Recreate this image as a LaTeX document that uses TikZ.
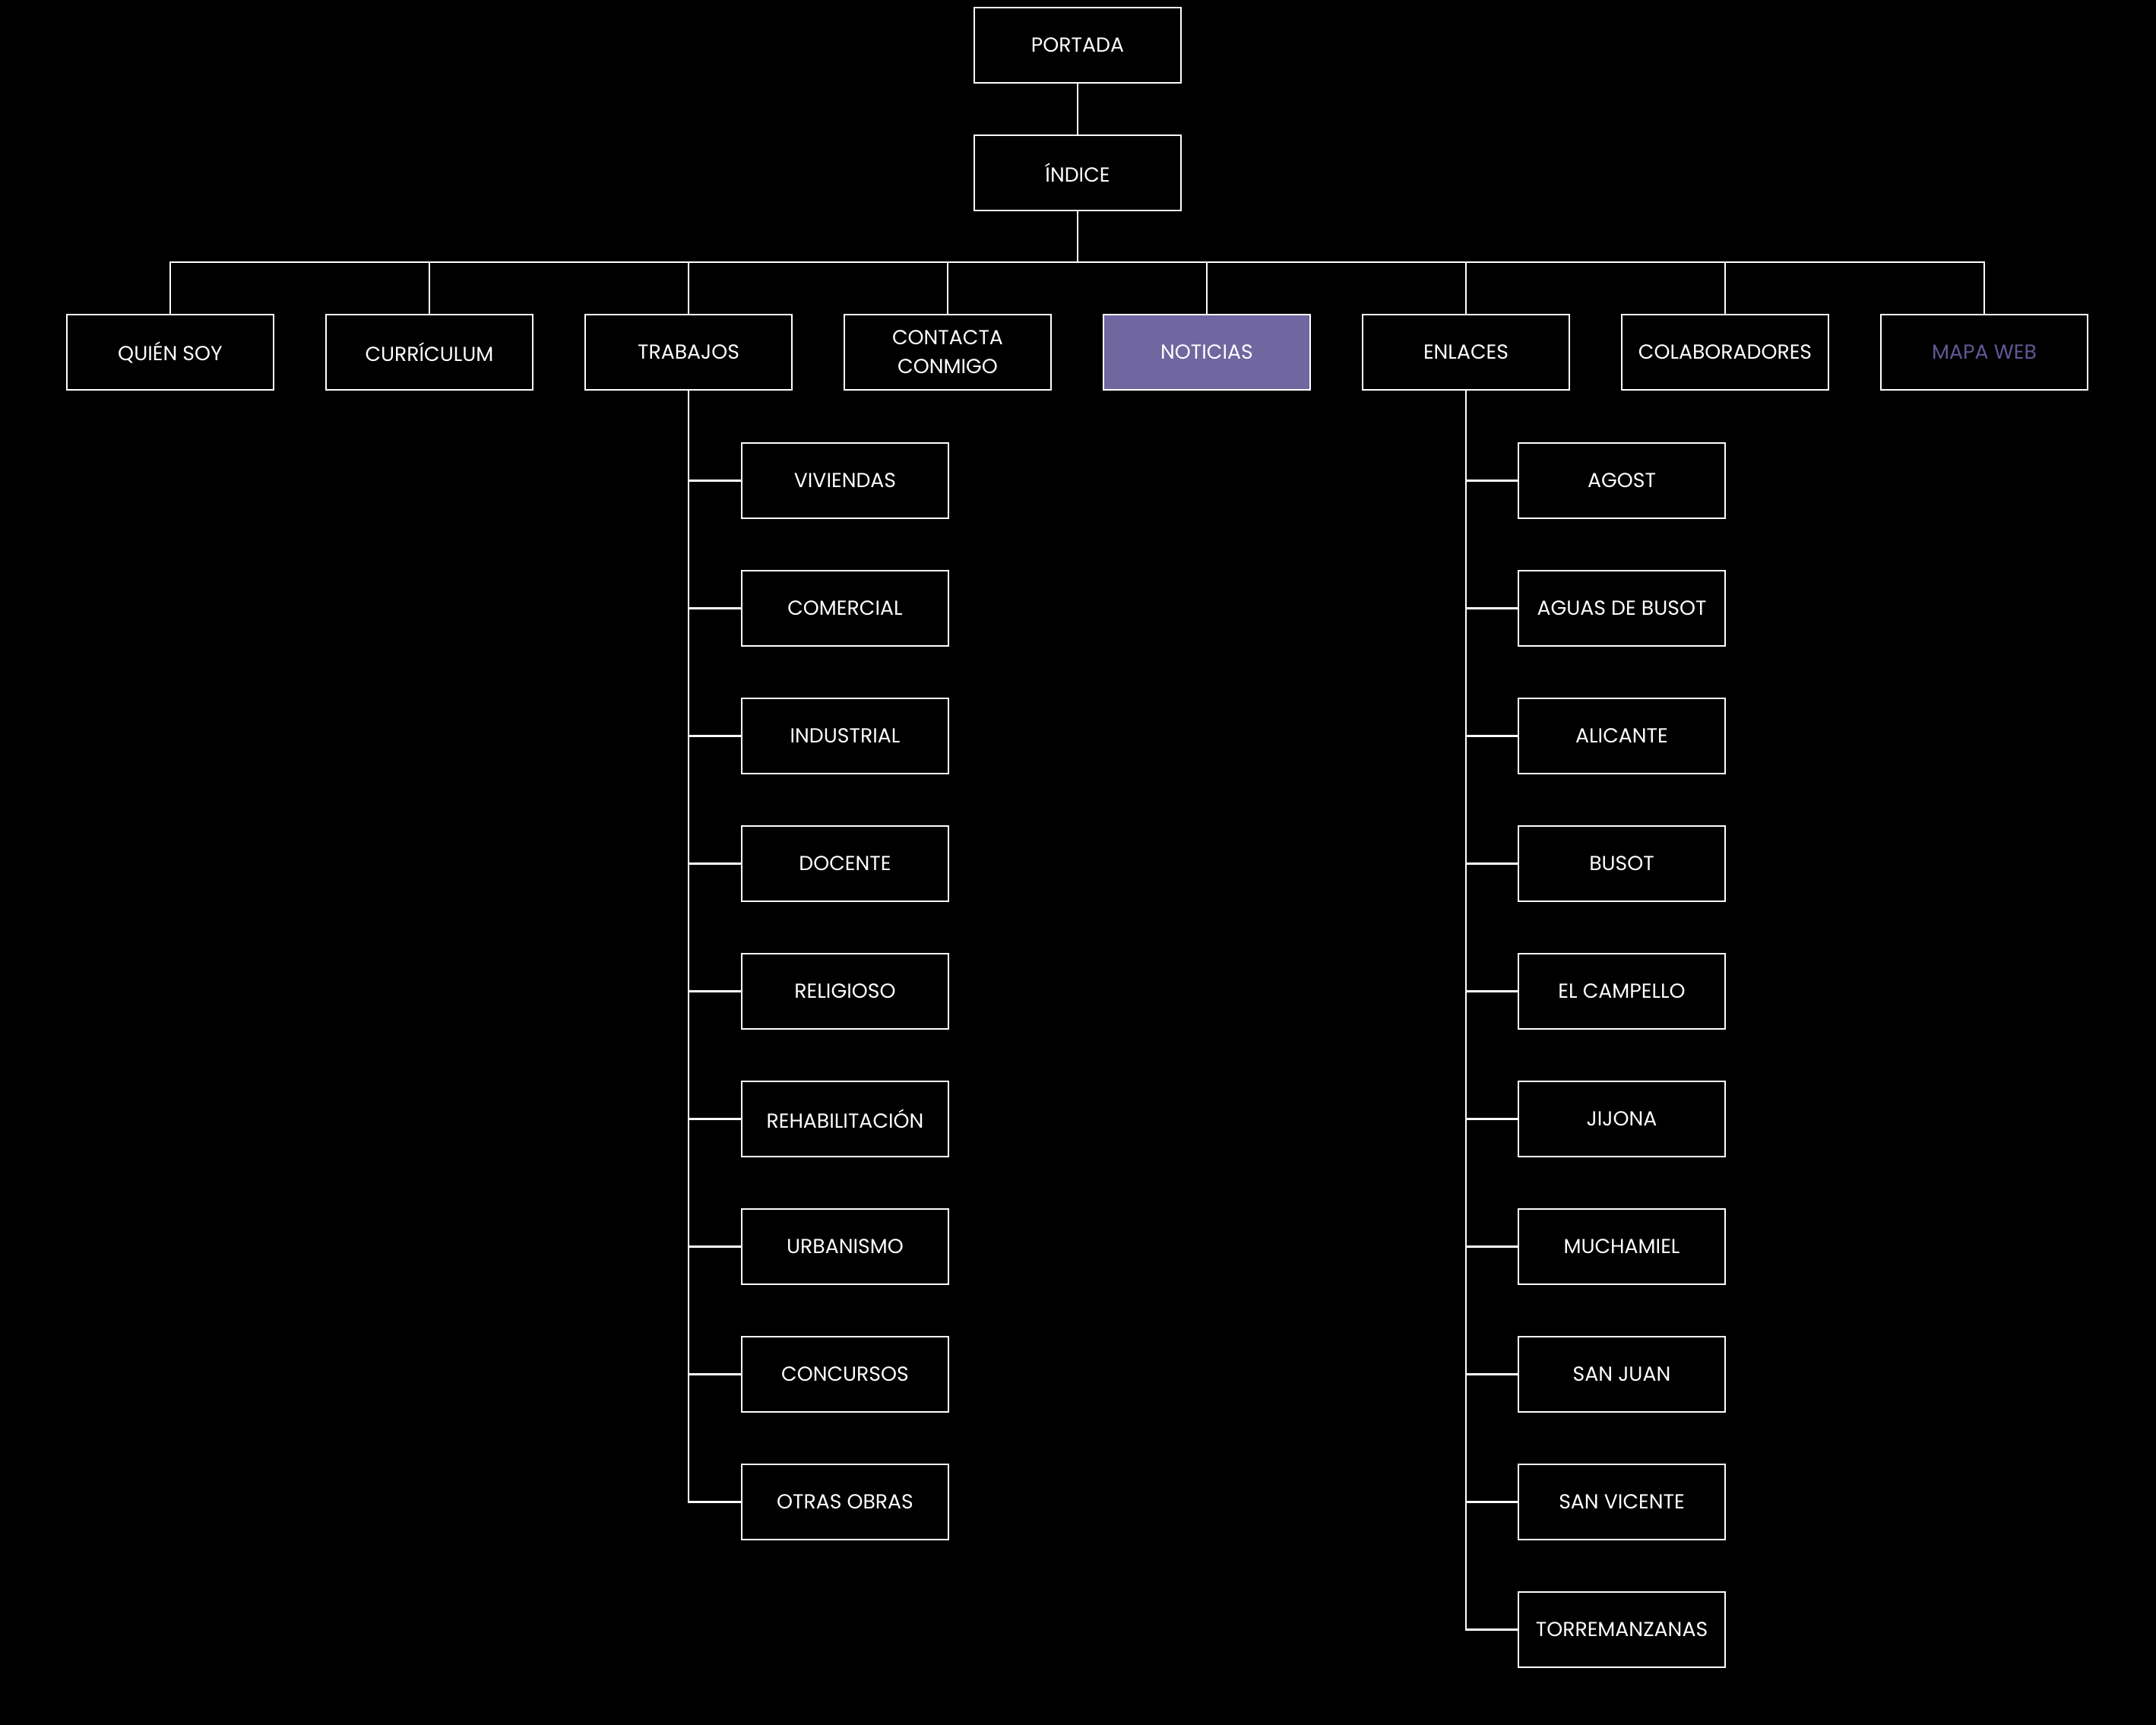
\documentclass[tikz,border=0pt]{standalone}
\usepackage{fontspec}
\setmainfont{Poppins}
\usepackage{xcolor}
\usepackage{tikz}
\usetikzlibrary{positioning}
\definecolor{lila}{RGB}{112,103,160}
\definecolor{lilatext}{RGB}{98,88,150}

\begin{document}
\begin{tikzpicture}[
  font=\fontsize{7.6}{10.8}\selectfont,
  line width=0.8pt,
  box/.style={draw=white,text=white,fill=black,align=center,inner sep=2pt,outer sep=0pt,
    minimum width=2.72cm,minimum height=0.99cm},
  con/.style={draw=white,line width=0.8pt}
]
\fill[black] (0,0) rectangle (28.37,-22.70);
% cabecera
\node[box] (por) at (14.18,-0.595) {PORTADA};
\node[box,below=0.69cm of por] (ind) {ÍNDICE};
% primer nivel
\node[box] (qs) at (2.24,-4.635) {QUIÉN SOY};
\node[box,right=0.69cm of qs] (cur) {CURRÍCULUM};
\node[box,right=0.69cm of cur] (tra) {TRABAJOS};
\node[box,right=0.69cm of tra] (con) {CONTACTA\\CONMIGO};
\node[box,right=0.69cm of con,fill=lila] (not) {NOTICIAS};
\node[box,right=0.69cm of not] (enl) {ENLACES};
\node[box,right=0.69cm of enl] (col) {COLABORADORES};
\node[box,right=0.69cm of col,text=lilatext] (map) {MAPA WEB};
% trabajos
\node[box,below=0.70cm of tra,xshift=2.06cm] (viv) {VIVIENDAS};
\node[box,below=0.69cm of viv] (com) {COMERCIAL};
\node[box,below=0.69cm of com] (ind2) {INDUSTRIAL};
\node[box,below=0.69cm of ind2] (doc) {DOCENTE};
\node[box,below=0.69cm of doc] (rel) {RELIGIOSO};
\node[box,below=0.69cm of rel] (reh) {REHABILITACIÓN};
\node[box,below=0.69cm of reh] (urb) {URBANISMO};
\node[box,below=0.69cm of urb] (cnc) {CONCURSOS};
\node[box,below=0.69cm of cnc] (otr) {OTRAS OBRAS};
% enlaces
\node[box,below=0.70cm of enl,xshift=2.05cm] (ago) {AGOST};
\node[box,below=0.69cm of ago] (agb) {AGUAS DE BUSOT};
\node[box,below=0.69cm of agb] (ali) {ALICANTE};
\node[box,below=0.69cm of ali] (bus) {BUSOT};
\node[box,below=0.69cm of bus] (cam) {EL CAMPELLO};
\node[box,below=0.69cm of cam] (jij) {JIJONA};
\node[box,below=0.69cm of jij] (muc) {MUCHAMIEL};
\node[box,below=0.69cm of muc] (sju) {SAN JUAN};
\node[box,below=0.69cm of sju] (svi) {SAN VICENTE};
\node[box,below=0.69cm of svi] (tor) {TORREMANZANAS};
% conexiones
\draw[con] (por)--(ind);
\draw[con] (ind.south) -- ++(0,-0.68) coordinate (bus1);
\draw[con] (bus1) -| (qs.north);
\draw[con] (bus1) -| (cur.north);
\draw[con] (bus1) -| (tra.north);
\draw[con] (bus1) -| (con.north);
\draw[con] (bus1) -| (not.north);
\draw[con] (bus1) -| (enl.north);
\draw[con] (bus1) -| (col.north);
\draw[con] (bus1) -| (map.north);
\draw[con] (tra.south) |- (viv.west);
\draw[con] (tra.south) |- (com.west);
\draw[con] (tra.south) |- (ind2.west);
\draw[con] (tra.south) |- (doc.west);
\draw[con] (tra.south) |- (rel.west);
\draw[con] (tra.south) |- (reh.west);
\draw[con] (tra.south) |- (urb.west);
\draw[con] (tra.south) |- (cnc.west);
\draw[con] (tra.south) |- (otr.west);
\draw[con] (enl.south) |- (ago.west);
\draw[con] (enl.south) |- (agb.west);
\draw[con] (enl.south) |- (ali.west);
\draw[con] (enl.south) |- (bus.west);
\draw[con] (enl.south) |- (cam.west);
\draw[con] (enl.south) |- (jij.west);
\draw[con] (enl.south) |- (muc.west);
\draw[con] (enl.south) |- (sju.west);
\draw[con] (enl.south) |- (svi.west);
\draw[con] (enl.south) |- (tor.west);
\end{tikzpicture}
\end{document}
